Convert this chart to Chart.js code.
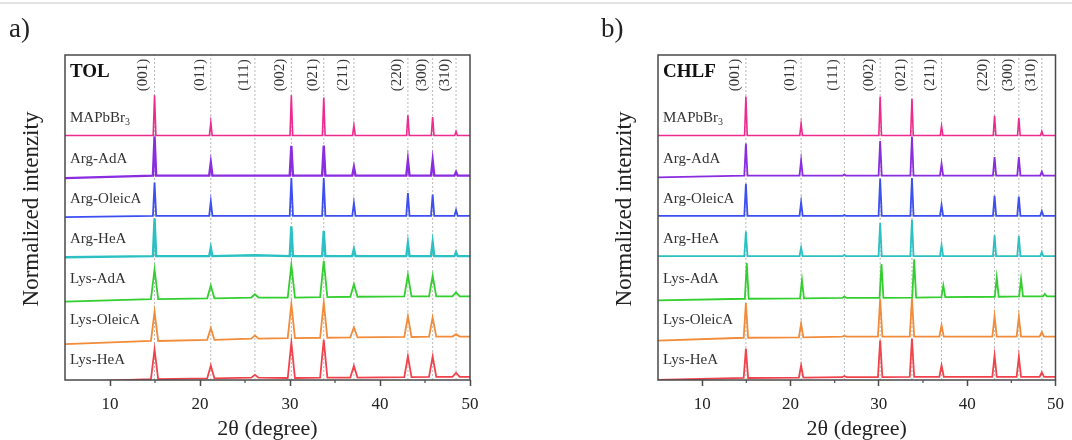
<!DOCTYPE html>
<html>
<head>
<meta charset="utf-8">
<script src="https://cdn.jsdelivr.net/npm/chart.js@4.4.0/dist/chart.umd.min.js"></script>
<style>
  html, body { margin: 0; padding: 0; background: #fff; }
  #wrap { position: relative; width: 1072px; height: 440px; overflow: hidden; }
  #topline { position: absolute; left: 0; top: 2px; width: 1072px; height: 2px; background: #e2e2e2; }
  .panel { position: absolute; top: 0; width: 536px; height: 440px; }
  #pa { left: 0; }
  #pb { left: 536px; }
  .tag { position: absolute; top: 13px; font: 27px 'Liberation Serif', 'Times New Roman', serif; color: #222; }
</style>
</head>
<body>
<div id="wrap">
  <div id="topline"></div>
  <div class="panel" id="pa"><canvas id="chartA" width="536" height="440"></canvas></div>
  <div class="panel" id="pb"><canvas id="chartB" width="536" height="440"></canvas></div>
  <div class="tag" style="left:9px">a)</div>
  <div class="tag" style="left:601px">b)</div>
</div>
<script>
let hkl = ['(001)', '(011)', '(111)', '(002)', '(021)', '(211)', '(220)', '(300)', '(310)'];
let hklPos = [14.95, 21.2, 26.1, 30.15, 33.75, 37.1, 43.1, 45.85, 48.45];
let samples = ['MAPbBr3', 'Arg-AdA', 'Arg-OleicA', 'Arg-HeA', 'Lys-AdA', 'Lys-OleicA', 'Lys-HeA'];
let offsets = [6, 5, 4, 3, 2, 1, 0];
let colorHex = ['#ee2a8d', '#8a2ce0', '#3e4ff2', '#2bc0c2', '#33cf2f', '#f28b3a', '#f2424b'];

// TOL: peak tops (above each trace's offset), columns follow hkl
let tolPeaks = [
  [1.00, 0.32, 0.00, 1.00, 0.94, 0.25, 0.50, 0.46, 0.10],
  [0.98, 0.32, 0.00, 0.74, 0.75, 0.21, 0.38, 0.38, 0.09],
  [0.83, 0.36, 0.00, 0.94, 0.94, 0.32, 0.57, 0.53, 0.15],
  [0.94, 0.21, 0.00, 0.74, 0.62, 0.17, 0.32, 0.34, 0.10],
  [0.67, 0.27, 0.05, 0.78, 0.88, 0.30, 0.53, 0.51, 0.10],
  [0.62, 0.21, 0.03, 0.81, 0.85, 0.23, 0.50, 0.47, 0.06],
  [0.68, 0.28, 0.05, 0.85, 0.92, 0.27, 0.51, 0.50, 0.10]
];
// TOL: baseline level at 2θ=5, under each hkl, and at 2θ=50
let tolBase = [
  [0, 0, 0, 0, 0, 0, 0, 0, 0, 0, 0],
  [-0.06, 0, 0, 0, 0, 0, 0, 0, 0, 0, 0],
  [-0.03, 0, 0, 0, 0, 0, 0, 0, 0, 0, 0],
  [-0.03, 0, 0, 0.02, 0, 0, 0, 0, 0, 0, 0],
  [-0.13, -0.07, -0.05, -0.03, -0.03, -0.02, -0.01, 0, 0, 0, 0],
  [-0.19, -0.11, -0.08, -0.05, -0.04, -0.03, -0.02, -0.01, 0, 0, 0],
  [-0.13, -0.06, -0.04, -0.02, -0.03, -0.02, -0.02, -0.01, 0, 0, 0]
];

// CHLF
let chlfPeaks = [
  [0.97, 0.29, 0.00, 0.97, 0.91, 0.23, 0.49, 0.44, 0.10],
  [0.80, 0.38, 0.03, 0.86, 0.97, 0.29, 0.46, 0.46, 0.10],
  [0.80, 0.34, 0.02, 0.93, 0.94, 0.27, 0.50, 0.48, 0.12],
  [0.61, 0.21, 0.03, 0.82, 0.90, 0.27, 0.52, 0.50, 0.10],
  [0.83, 0.40, 0.00, 0.80, 0.92, 0.27, 0.47, 0.43, 0.06],
  [0.83, 0.32, 0.02, 0.93, 0.95, 0.28, 0.51, 0.49, 0.11],
  [0.70, 0.28, 0.02, 0.91, 0.95, 0.28, 0.53, 0.50, 0.11]
];
let chlfBase = [
  [0, 0, 0, 0, 0, 0, 0, 0, 0, 0, 0],
  [-0.04, 0, 0, 0, 0, 0, 0, 0, 0, 0, 0],
  [0, 0, 0, 0, 0, 0, 0, 0, 0, 0, 0],
  [0, 0, 0, 0, 0, 0, 0, 0, 0, 0, 0],
  [-0.10, -0.06, -0.05, -0.04, -0.04, -0.03, -0.02, -0.01, 0, 0, 0],
  [-0.10, -0.03, -0.02, 0, 0, 0, 0, 0, 0, 0, 0],
  [-0.08, -0.03, -0.02, -0.01, -0.01, 0, 0, 0, 0, 0, 0]
];
// Lys-AdA in CHLF sits at slightly higher angles
let chlfLysAdAPos = [15.05, 21.3, 26.1, 30.3, 34.0, 37.3, 43.35, 46.1, 48.8];

// peak foot half-widths (degrees) and line widths, per sample
let tolPeakW = [0.15, 0.18, 0.18, 0.18, 0.4, 0.4, 0.4];
let chlfPeakW = [0.15, 0.18, 0.18, 0.18, 0.22, 0.25, 0.25];
let tolLineW = [1.6, 2.4, 1.8, 2.4, 1.8, 1.8, 1.8];
let chlfLineW = [1.6, 1.8, 1.8, 1.8, 1.8, 1.8, 1.8];

Chart.defaults.font.family = "'Liberation Serif', 'Times New Roman', serif";

function trace(pos, tops, base, w, off) {
  let pts = [{x: 5, y: off + base[0]}];
  pos.forEach((p, i) => {
    let b = base[i + 1];
    if (tops[i] > b) {
      pts.push({x: p - w, y: off + b}, {x: p, y: off + tops[i]}, {x: p + w, y: off + b});
    } else {
      pts.push({x: p, y: off + b});
    }
  });
  pts.push({x: 50, y: off + base[10]});
  return pts;
}

let decor = {
  id: 'decor',
  afterDatasetsDraw(chart, args, opts) {
    let ctx = chart.ctx;
    let a = chart.chartArea;
    let x = chart.scales.x, y = chart.scales.y;
    ctx.save();
    ctx.strokeStyle = '#4a4a4a';
    ctx.lineWidth = 1.5;
    ctx.strokeRect(a.left, a.top, a.right - a.left, a.bottom - a.top);
    // minor ticks
    ctx.lineWidth = 1.2;
    [15, 25, 35, 45].forEach(v => {
      let px = x.getPixelForValue(v);
      ctx.beginPath();
      ctx.moveTo(px, a.bottom);
      ctx.lineTo(px, a.bottom + 3);
      ctx.stroke();
    });
    // hkl labels
    ctx.fillStyle = '#333';
    ctx.font = "15px 'Liberation Serif', serif";
    ctx.textAlign = 'center';
    ctx.textBaseline = 'middle';
    hkl.forEach((t, i) => {
      ctx.save();
      ctx.translate(x.getPixelForValue(hklPos[i]) - 11, 75);
      ctx.rotate(-Math.PI / 2);
      ctx.fillText(t, 0, 0);
      ctx.restore();
    });
    // solvent
    ctx.textAlign = 'left';
    ctx.fillStyle = '#111';
    ctx.font = "bold 19px 'Liberation Serif', serif";
    ctx.fillText(opts.solvent, a.left + 5, 72);
    // sample labels
    ctx.fillStyle = '#333';
    samples.forEach((s, i) => {
      let py = y.getPixelForValue(offsets[i] + 0.42);
      ctx.font = "15px 'Liberation Serif', serif";
      if (s === 'MAPbBr3') {
        ctx.fillText('MAPbBr', a.left + 5, py);
        let w = ctx.measureText('MAPbBr').width;
        ctx.font = "10px 'Liberation Serif', serif";
        ctx.fillText('3', a.left + 5 + w, py + 4);
      } else {
        ctx.fillText(s, a.left + 5, py);
      }
    });
    // y title
    ctx.fillStyle = '#222';
    ctx.font = "23px 'Liberation Serif', serif";
    ctx.textAlign = 'center';
    ctx.save();
    ctx.translate(a.left - 33, 209);
    ctx.rotate(-Math.PI / 2);
    ctx.fillText('Normalized intenzity', 0, 0);
    ctx.restore();
    ctx.restore();
  }
};

function makeChart(id, solvent, peaks, base, peakW, lineW, padL, padR) {
  let datasets = [];
  samples.forEach((s, i) => {
    let pos = (solvent === 'CHLF' && s === 'Lys-AdA') ? chlfLysAdAPos : hklPos;
    datasets.push({
      label: s,
      data: trace(pos, peaks[i], base[i], peakW[i], offsets[i]),
      borderColor: colorHex[i],
      borderWidth: lineW[i],
      pointRadius: 0,
      tension: 0,
      order: 1
    });
  });
  hklPos.forEach(p => {
    datasets.push({
      data: [{x: p, y: -0.08}, {x: p, y: 8}],
      borderColor: '#b8b8b8',
      borderWidth: 1,
      borderDash: [2, 2],
      pointRadius: 0,
      order: 10
    });
  });
  return new Chart(document.getElementById(id).getContext('2d'), {
    type: 'line',
    data: {datasets: datasets},
    plugins: [decor],
    options: {
      responsive: false,
      animation: false,
      layout: {padding: {left: padL, right: padR, top: 55, bottom: 0}},
      plugins: {
        legend: {display: false},
        tooltip: {enabled: false},
        decor: {solvent: solvent}
      },
      scales: {
        x: {
          type: 'linear',
          min: 5,
          max: 50,
          afterFit: s => { s.height = 60; },
          border: {display: false},
          grid: {
            drawOnChartArea: false,
            drawTicks: true,
            tickLength: 6,
            tickWidth: 1.5,
            tickColor: c => (c.tick && c.tick.value % 10 === 0) ? '#4a4a4a' : 'rgba(0,0,0,0)'
          },
          ticks: {
            stepSize: 5,
            padding: 8,
            color: '#222',
            font: {size: 17},
            maxRotation: 0,
            autoSkip: false,
            callback: v => (v % 10 === 0 ? v : '')
          },
          title: {
            display: true,
            text: '2θ (degree)',
            color: '#222',
            font: {size: 22, lineHeight: 1},
            padding: {top: -3, bottom: 0}
          }
        },
        y: {display: false, min: -0.08, max: 8}
      }
    }
  });
}

let chartA = makeChart('chartA', 'TOL', tolPeaks, tolBase, tolPeakW, tolLineW, 65, 66);
let chartB = makeChart('chartB', 'CHLF', chlfPeaks, chlfBase, chlfPeakW, chlfLineW, 122, 9);
</script>
</body>
</html>
